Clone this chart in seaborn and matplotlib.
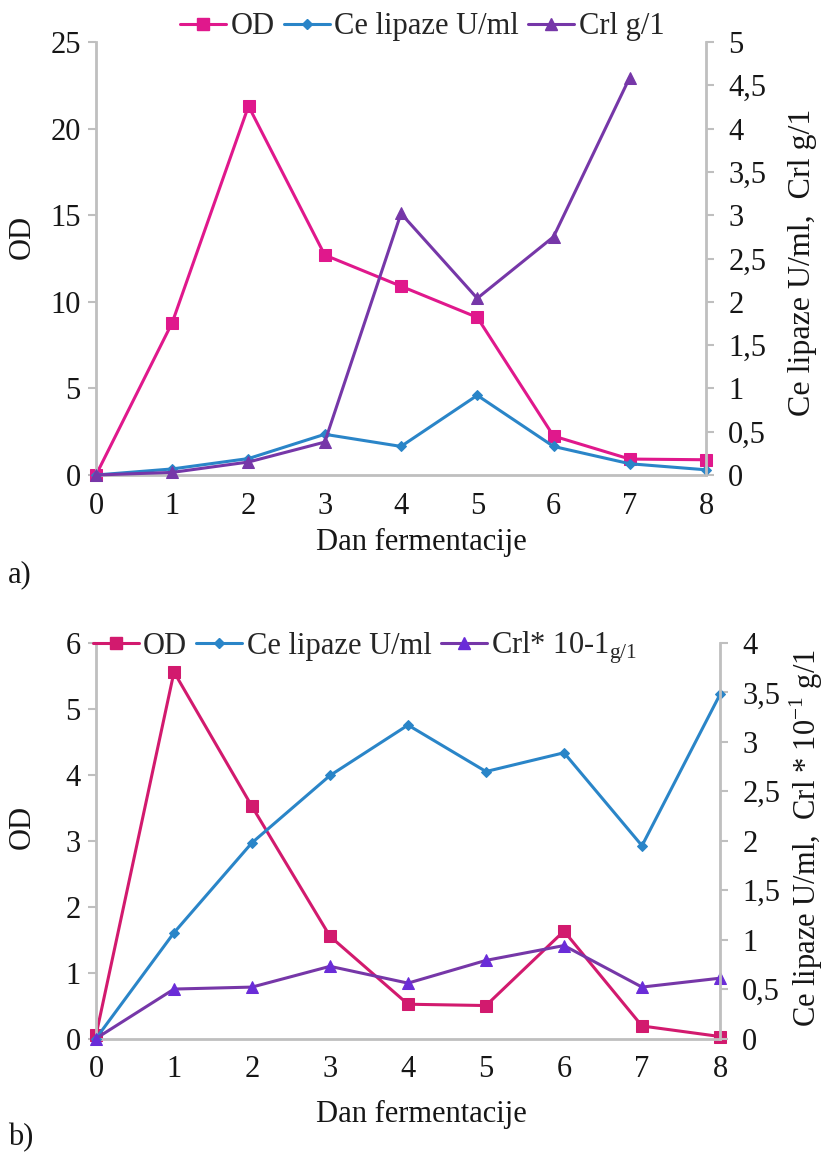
import matplotlib
matplotlib.use("Agg")
import matplotlib.pyplot as plt
import seaborn as sns
import pandas as pd
from matplotlib.ticker import FixedLocator, FuncFormatter
from matplotlib.lines import Line2D

sns.set_theme(style="white")
plt.rcParams['font.family'] = ['Liberation Serif', 'DejaVu Serif']
plt.rcParams['mathtext.fontset'] = 'custom'
plt.rcParams['mathtext.rm'] = 'Liberation Serif'

days = [0, 1, 2, 3, 4, 5, 6, 7, 8]

# Panel a
od_a = [0.0, 8.8, 21.3, 12.7, 10.9, 9.1, 2.25, 0.92, 0.88]
lip_a = [0.0, 0.07, 0.19, 0.47, 0.33, 0.92, 0.33, 0.13, 0.06]
crl_days_a = [0, 1, 2, 3, 4, 5, 6, 7]
crl_a = [0.0, 0.03, 0.15, 0.38, 3.02, 2.04, 2.75, 4.59]

# Panel b
od_b = [0.05, 5.56, 3.52, 1.55, 0.52, 0.50, 1.63, 0.19, 0.03]
lip_b = [0.0, 1.07, 1.98, 2.66, 3.17, 2.70, 2.89, 1.95, 3.48]
crl_b = [0.0, 0.50, 0.52, 0.73, 0.56, 0.79, 0.94, 0.52, 0.61]

left_ticks_a = [0, 5, 10, 15, 20, 25]
right_ticks_a = [0, 0.5, 1, 1.5, 2, 2.5, 3, 3.5, 4, 4.5, 5]
left_ticks_b = [0, 1, 2, 3, 4, 5, 6]
right_ticks_b = [0, 0.5, 1, 1.5, 2, 2.5, 3, 3.5, 4]

C_OD_A = "#E0188C"
C_OD_B = "#D21A6E"
C_LIP = "#2A85C8"
C_CRL = "#7637A8"
C_CRL_B_MK = "#6A2CD8"
GRAY = "#BFBFBF"
FS = 22
TXT = "#161616"

def comma(v, pos):
    return ("%g" % v).replace(".", ",")

fig = plt.figure(figsize=(8.27, 11.57), dpi=100)

def style_axes(ax, ax2):
    for a in (ax, ax2):
        for s in a.spines.values():
            s.set_visible(False)
        a.grid(False)
        a.set_facecolor("none")
    ax.spines['left'].set_visible(True)
    ax.spines['bottom'].set_visible(True)
    ax2.spines['right'].set_visible(True)
    for a, s in ((ax, 'left'), (ax, 'bottom'), (ax2, 'right')):
        a.spines[s].set_color(GRAY)
        a.spines[s].set_linewidth(2)
    ax.tick_params(axis='both', which='both', direction='out', length=6, width=1.5,
                   color=GRAY, labelsize=FS, labelcolor=TXT, pad=5)
    ax2.tick_params(axis='y', direction='out', length=6, width=1.5, color=GRAY,
                    labelsize=FS, labelcolor=TXT, pad=10)
    ax.tick_params(axis='x', pad=6)
    ax.set_xlim(0, 8)
    ax.xaxis.set_major_locator(FixedLocator(days))

def draw(ax, ax2, x, od, lip, xc, crl, c_od, c_crl_mk):
    df_od = pd.DataFrame({"x": x, "y": od})
    df_lip = pd.DataFrame({"x": x, "y": lip})
    df_crl = pd.DataFrame({"x": xc, "y": crl})
    sns.lineplot(data=df_od, x="x", y="y", ax=ax, color=c_od, marker="s", markersize=9,
                 markeredgecolor=c_od, markerfacecolor=c_od, linewidth=2.2, clip_on=False)
    sns.lineplot(data=df_lip, x="x", y="y", ax=ax2, color=C_LIP, marker="D", markersize=5,
                 markeredgecolor=C_LIP, linewidth=2.2, clip_on=False)
    sns.lineplot(data=df_crl, x="x", y="y", ax=ax2, color=C_CRL, marker="^", markersize=9,
                 markeredgecolor=c_crl_mk, markerfacecolor=c_crl_mk, linewidth=2.2, clip_on=False)

# ---------- Panel a ----------
axa = fig.add_axes([96/827, 1-475/1157, 610/827, 433/1157])
axa2 = axa.twinx()
draw(axa, axa2, days, od_a, lip_a, crl_days_a, crl_a, C_OD_A, C_CRL)
style_axes(axa, axa2)
axa.set_ylim(0, 25)
axa.yaxis.set_major_locator(FixedLocator(left_ticks_a))
axa2.set_ylim(0, 5)
axa2.yaxis.set_major_locator(FixedLocator(right_ticks_a))
axa2.yaxis.set_major_formatter(FuncFormatter(comma))
axa.set_xlabel("Dan fermentacije", fontsize=FS, color=TXT)
axa.xaxis.set_label_coords(0.533, -0.122)
axa.set_ylabel("OD", fontsize=FS, color=TXT)
axa.yaxis.set_label_coords(-0.097, 0.55)
axa2.set_ylabel("Ce lipaze U/ml,  Crl g/1", fontsize=FS + 1, color=TXT)
axa2.yaxis.set_label_coords(1.134, 0.49)

handles_a = [
    Line2D([], [], color=C_OD_A, marker="s", markersize=9, linewidth=2.2),
    Line2D([], [], color=C_LIP, marker="D", markersize=5, linewidth=2.2),
    Line2D([], [], color=C_CRL, marker="^", markersize=9, linewidth=2.2),
]
axa.legend(handles_a, ["OD", "Ce lipaze U/ml", "Crl g/1"], ncol=3, frameon=False,
           fontsize=FS, loc="center", bbox_to_anchor=(0.535, 1.035), handlelength=1.5,
           handletextpad=0.15, columnspacing=0.3, borderaxespad=0)
fig.text(8/827, 1-575/1157, "a)", fontsize=FS, va="center", ha="left", color=TXT)

# ---------- Panel b ----------
axb = fig.add_axes([96/827, 1-1038.5/1157, 624/827, 395.5/1157])
axb2 = axb.twinx()
draw(axb, axb2, days, od_b, lip_b, days, crl_b, C_OD_B, C_CRL_B_MK)
style_axes(axb, axb2)
axb.set_ylim(0, 6)
axb.yaxis.set_major_locator(FixedLocator(left_ticks_b))
axb2.set_ylim(0, 4)
axb2.yaxis.set_major_locator(FixedLocator(right_ticks_b))
axb2.yaxis.set_major_formatter(FuncFormatter(comma))
axb.set_xlabel("Dan fermentacije", fontsize=FS, color=TXT)
axb.xaxis.set_label_coords(0.521, -0.156)
axb.set_ylabel("OD", fontsize=FS, color=TXT)
axb.yaxis.set_label_coords(-0.095, 0.535)
axb2.set_ylabel(r"Ce lipaze U/ml,  Crl * 10$^{-1}$ g/1", fontsize=FS, color=TXT)
axb2.yaxis.set_label_coords(1.108, 0.507)

handles_b = [
    Line2D([], [], color=C_OD_B, marker="s", markersize=9, linewidth=2.2),
    Line2D([], [], color=C_LIP, marker="D", markersize=5, linewidth=2.2),
    Line2D([], [], color=C_CRL, marker="^", markersize=9, markerfacecolor=C_CRL_B_MK,
           markeredgecolor=C_CRL_B_MK, linewidth=2.2),
]
axb.legend(handles_b, ["OD", "Ce lipaze U/ml", r"Crl* 10-1$_{\mathrm{g/1}}$"], ncol=3,
           frameon=False, fontsize=FS, loc="center", bbox_to_anchor=(0.431, 0.987),
           handlelength=1.5, handletextpad=0.15, columnspacing=0.3, borderaxespad=0)
fig.text(8/827, 1-1138/1157, "b)", fontsize=FS, va="center", ha="left", color=TXT)

fig.savefig("out.png", dpi=100)
